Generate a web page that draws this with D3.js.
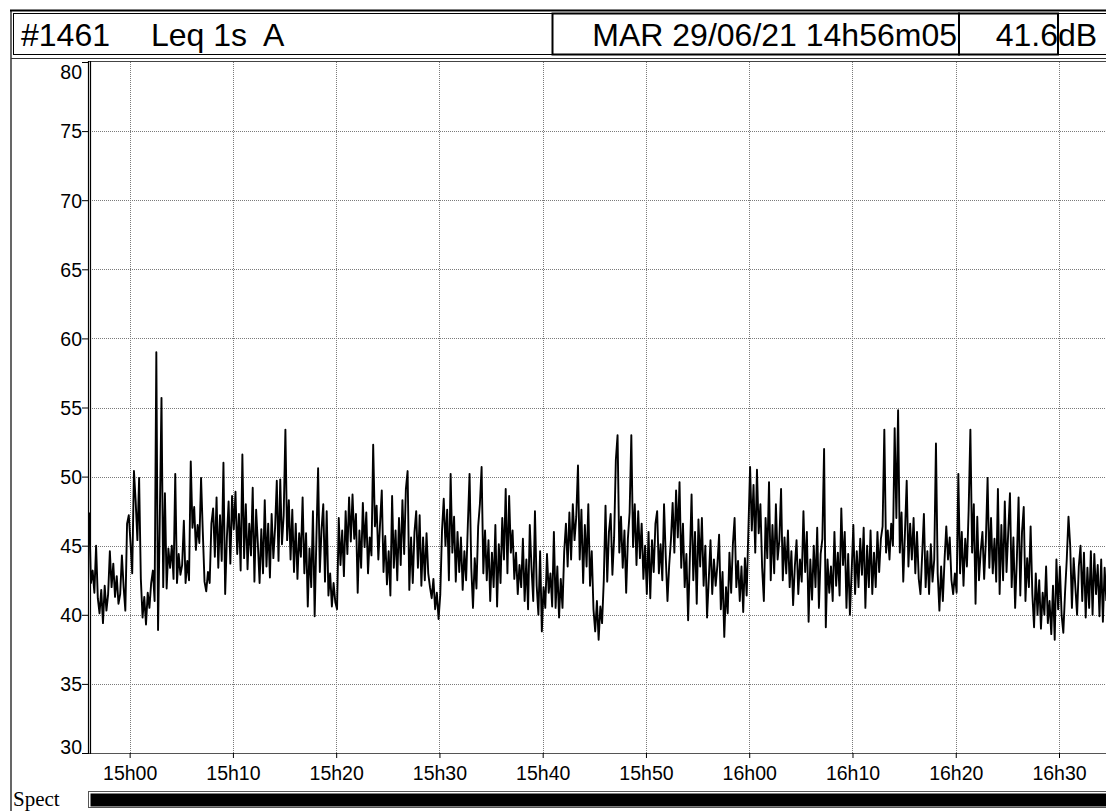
<!DOCTYPE html>
<html>
<head>
<meta charset="utf-8">
<script src="https://cdn.jsdelivr.net/npm/d3@7"></script>
<style>
  body { margin: 0; background: #fff; }
  svg { display: block; }
  text { font-family: "Liberation Sans", Arial, sans-serif; fill: #000; }
</style>
</head>
<body>
<svg id="chart" width="1106" height="811"></svg>
<script>
// header texts
const station = "#1461";
const indicator = "Leq 1s  A";
const stamp = "MAR 29/06/21 14h56m05";
const lastValue = "41.6";
const unit = "dB";

// time base of the record, one value every 10 s from the start
const startTime = "14:56:05";
const stepSeconds = 10;
const viewStart = "14:55:58";
const viewEnd = "16:34:33";

const xTicks = ["15:00", "15:10", "15:20", "15:30", "15:40", "15:50", "16:00", "16:10", "16:20", "16:30"];
const yTicks = [30, 35, 40, 45, 50, 55, 60, 65, 70, 75, 80];

// Leq 1s A, dB (one row per minute)
const leq = [
  47.4, 42.3, 43.2, 41.6, 45.0, 41.2,   // 14h56
  40.1, 41.8, 39.4, 42.1, 40.3, 41.5,
  44.6, 42.0, 43.7, 41.3, 42.8, 40.8,
  41.5, 44.3, 42.0, 40.3, 46.6, 47.2,
  45.2, 43.0, 50.4, 48.2, 45.4, 49.9,   // 15h00
  42.6, 39.8, 41.3, 39.3, 41.6, 40.5,
  42.3, 43.2, 41.0, 59.0, 38.9, 46.8,
  55.7, 42.0, 48.8, 41.9, 44.8, 43.4,
  45.0, 42.6, 50.2, 42.3, 44.4, 42.9,
  43.6, 46.8, 42.3, 43.9, 42.5, 51.1,   // 15h05
  46.3, 47.8, 44.7, 46.5, 45.2, 49.9,
  46.0, 42.4, 41.7, 43.1, 42.3, 46.6,
  47.7, 44.2, 48.5, 43.4, 47.2, 43.9,
  51.0, 41.5, 45.6, 48.2, 43.7, 48.6,
  46.2, 48.9, 44.4, 47.3, 43.2, 51.6,   // 15h10
  44.1, 48.0, 43.3, 46.6, 44.3, 49.2,
  42.4, 47.6, 45.1, 42.3, 46.2, 43.0,
  48.3, 43.5, 46.6, 42.7, 47.3, 44.1,
  46.3, 49.7, 43.9, 49.8, 45.1, 47.2,
  53.4, 45.4, 48.3, 44.0, 47.6, 43.1,   // 15h15
  46.6, 42.6, 45.9, 44.2, 48.5, 43.0,
  45.9, 40.6, 44.8, 42.0, 47.5, 39.9,
  45.5, 50.6, 43.1, 46.2, 48.0, 42.4,
  47.5, 41.4, 43.0, 40.6, 42.3, 40.9,
  40.4, 47.0, 43.6, 46.1, 42.8, 47.5,   // 15h20
  44.4, 48.5, 45.3, 48.7, 45.5, 47.3,
  41.6, 46.1, 43.4, 48.1, 44.9, 47.4,
  43.0, 45.6, 44.3, 52.3, 46.4, 47.9,
  44.0, 46.6, 49.0, 43.1, 45.7, 42.2,
  44.6, 41.4, 48.6, 43.4, 46.1, 42.5,   // 15h25
  47.0, 43.6, 48.3, 44.4, 49.1, 50.4,
  41.8, 45.6, 42.3, 46.0, 47.5, 43.4,
  47.2, 42.1, 45.6, 42.5, 45.9, 43.0,
  42.0, 41.2, 42.6, 40.4, 41.6, 39.7,
  41.5, 46.1, 48.4, 45.0, 47.6, 42.5,   // 15h30
  50.2, 44.5, 47.1, 42.4, 46.0, 43.1,
  45.6, 41.8, 44.6, 42.5, 46.5, 50.2,
  43.4, 40.5, 44.1, 41.9, 46.4, 48.0,
  50.7, 43.0, 46.1, 42.5, 45.4, 41.0,
  44.5, 42.0, 46.5, 40.6, 45.1, 42.3,   // 15h35
  47.0, 44.0, 49.1, 43.0, 48.6, 44.5,
  46.1, 42.6, 44.5, 41.5, 43.6, 42.0,
  45.5, 41.0, 44.0, 40.4, 46.5, 43.4,
  41.0, 47.5, 42.1, 40.0, 44.6, 38.8,
  42.0, 40.5, 44.4, 41.6, 43.0, 40.6,   // 15h40
  46.0, 40.5, 43.5, 39.8, 42.6, 40.5,
  44.6, 46.6, 43.5, 47.4, 44.0, 48.0,
  45.4, 47.1, 50.8, 44.0, 47.6, 42.3,
  46.5, 43.5, 48.0, 42.1, 44.6, 40.4,
  38.8, 41.0, 38.2, 40.6, 39.4, 42.5,   // 15h45
  47.9, 42.4, 46.0, 47.3, 42.9, 45.6,
  51.2, 53.0, 44.5, 47.1, 43.4, 46.1,
  41.6, 45.5, 47.4, 53.0, 44.9, 48.0,
  43.6, 47.5, 44.1, 46.6, 42.6, 45.0,
  41.5, 46.0, 41.2, 45.4, 43.1, 46.6,   // 15h50
  47.5, 43.0, 45.1, 42.5, 48.0, 44.2,
  41.0, 43.6, 45.4, 48.1, 44.5, 49.0,
  45.6, 49.6, 43.4, 46.6, 42.0, 44.4,
  39.6, 44.1, 48.7, 42.5, 46.0, 40.8,
  46.9, 43.5, 47.0, 42.1, 45.0, 39.8,   // 15h55
  42.6, 45.4, 41.5, 44.0, 42.1, 43.6,
  45.8, 40.4, 43.1, 38.4, 42.0, 40.1,
  44.5, 41.6, 45.1, 47.0, 42.0, 43.9,
  41.0, 43.5, 40.2, 44.1, 41.4, 46.1,
  50.7, 46.1, 49.4, 44.5, 50.5, 45.9,   // 16h00
  48.0, 43.4, 41.0, 47.0, 44.1, 49.6,
  42.5, 46.5, 43.0, 48.0, 44.0, 45.4,
  49.1, 42.5, 45.6, 43.0, 46.1, 42.0,
  44.6, 40.7, 43.5, 45.4, 41.5, 44.0,
  42.4, 47.5, 43.1, 46.0, 39.5, 44.0,   // 16h05
  41.1, 45.0, 42.0, 46.3, 40.5, 44.4,
  45.5, 52.0, 39.1, 44.0, 41.6, 43.5,
  41.0, 46.0, 42.1, 44.5, 41.4, 47.7,
  43.6, 46.0, 40.5, 44.4, 40.0, 43.1,
  46.5, 41.5, 44.6, 42.0, 45.5, 42.9,   // 16h10
  46.3, 40.5, 45.0, 42.0, 46.1, 41.5,
  44.5, 42.0, 46.0, 43.1, 45.5, 46.4,
  53.4, 44.5, 46.1, 44.0, 46.6, 45.0,
  53.5, 47.0, 54.8, 44.5, 47.4, 42.4,
  46.0, 49.7, 43.5, 46.6, 44.0, 47.0,   // 16h15
  43.0, 46.0, 42.6, 41.5, 44.4, 47.3,
  42.0, 44.6, 41.5, 45.1, 42.4, 44.0,
  52.4, 43.0, 40.3, 43.5, 41.0, 44.0,
  46.4, 44.0, 45.6, 42.5, 41.5, 43.0,
  41.6, 50.2, 43.0, 46.0, 42.1, 45.5,   // 16h20
  43.5, 47.6, 53.4, 44.5, 48.0, 40.8,
  47.1, 42.5, 44.6, 46.0, 42.6, 45.4,
  49.9, 43.4, 47.0, 43.0, 45.5, 42.4,
  49.1, 41.5, 46.5, 42.5, 48.2, 43.1,
  46.0, 48.8, 42.0, 45.6, 40.5, 44.0,   // 16h25
  48.5, 41.4, 46.0, 47.8, 41.0, 44.1,
  42.0, 46.4, 41.5, 39.1, 43.0, 40.0,
  42.5, 39.0, 41.6, 40.0, 43.5, 39.4,
  41.0, 38.6, 42.1, 38.2, 44.0, 40.4,
  43.5, 40.0, 38.7, 41.6, 44.0, 47.1,   // 16h30
  45.0, 40.5, 44.1, 42.0, 40.0, 43.5,
  45.0, 41.0, 44.5, 39.8, 43.4, 40.5,
  44.6, 40.0, 44.4, 41.5, 43.6, 39.9,
  44.0, 39.5, 43.4, 41.0
];

const svg = d3.select("#chart");
const W = +svg.attr("width");
const plot = {left: 88, right: W, top: 62, bottom: 753};

svg.append("rect").attr("width", W).attr("height", 811).attr("fill", "#fff");

const parseT = d3.timeParse("%H:%M:%S");
const parseHM = d3.timeParse("%H:%M");
const t0 = parseT(startTime);
const series = leq.map((v, i) => ({time: d3.timeSecond.offset(t0, i * stepSeconds), value: v}));
const tickDates = xTicks.map(parseHM);

const x = d3.scaleTime()
    .domain([parseT(viewStart), parseT(viewEnd)])
    .range([plot.left, plot.right]);
const y = d3.scaleLinear().domain([30, 80]).range([plot.bottom, plot.top]);

// frame + header
const frame = svg.append("g").attr("fill", "none").attr("stroke", "#000");
frame.append("line").attr("x1", 10).attr("x2", W).attr("y1", 10.5).attr("y2", 10.5).attr("stroke-width", 2);
frame.append("line").attr("x1", 11).attr("x2", 11).attr("y1", 10).attr("y2", 811).attr("stroke-width", 1.2);
frame.append("rect").attr("x", 13.5).attr("y", 13.5).attr("width", W).attr("height", 41);
frame.append("rect").attr("x", 552.5).attr("y", 13.5).attr("width", 406.5).attr("height", 41).attr("stroke-width", 2);
frame.append("rect").attr("x", 959).attr("y", 13.5).attr("width", 99).attr("height", 41).attr("stroke-width", 2);
frame.append("line").attr("x1", 11).attr("x2", W).attr("y1", 58.5).attr("y2", 58.5).attr("stroke", "#333");

const head = svg.append("g").style("font-size", "32px");
head.append("text").attr("x", 21).attr("y", 46).text(station);
head.append("text").attr("x", 151).attr("y", 46).style("white-space", "pre").text(indicator);
head.append("text").attr("x", 957).attr("y", 46).attr("text-anchor", "end").text(stamp);
head.append("text").attr("x", 1058).attr("y", 46).attr("text-anchor", "end").text(lastValue);
head.append("text").attr("x", 1058).attr("y", 46).text(unit);

// grid
const grid = svg.append("g").attr("stroke", "#7a7a7a").attr("stroke-dasharray", "1,1").attr("stroke-width", 1);
grid.selectAll(".gx").data(tickDates).join("line")
    .attr("x1", d => Math.round(x(d)) + 0.5).attr("x2", d => Math.round(x(d)) + 0.5)
    .attr("y1", plot.top).attr("y2", plot.bottom);
grid.selectAll(".gy").data(yTicks.slice(1, -1)).join("line")
    .attr("x1", plot.left).attr("x2", plot.right)
    .attr("y1", d => Math.round(y(d)) + 0.5).attr("y2", d => Math.round(y(d)) + 0.5);

// plot top border and x axis line
svg.append("line").attr("x1", plot.left).attr("x2", plot.right)
    .attr("y1", 61.5).attr("y2", 61.5).attr("stroke", "#444");
svg.append("line").attr("x1", plot.left).attr("x2", plot.right)
    .attr("y1", plot.bottom + 0.5).attr("y2", plot.bottom + 0.5).attr("stroke", "#555");

// trace
svg.append("clipPath").attr("id", "clip").append("rect")
    .attr("x", plot.left).attr("y", plot.top).attr("width", plot.right - plot.left).attr("height", plot.bottom - plot.top);
svg.append("path")
    .datum(series)
    .attr("clip-path", "url(#clip)")
    .attr("fill", "none")
    .attr("stroke", "#000")
    .attr("stroke-width", 1.9)
    .attr("stroke-linejoin", "round")
    .attr("d", d3.line().x(d => x(d.time)).y(d => y(d.value)));

// axes
const xAxis = svg.append("g")
    .attr("transform", `translate(0,${plot.bottom})`)
    .call(d3.axisBottom(x).tickValues(tickDates).tickFormat(d3.timeFormat("%Hh%M")).tickSize(5).tickPadding(8));
xAxis.select(".domain").remove();
xAxis.selectAll("line").attr("stroke", "#000");
xAxis.selectAll("text").style("font-size", "19.5px").attr("font-family", null);

const yAxis = svg.append("g")
    .attr("transform", `translate(${plot.left},0)`)
    .call(d3.axisLeft(y).tickValues(yTicks).tickSize(6).tickPadding(0));
yAxis.select(".domain").remove();
yAxis.selectAll("line").attr("stroke", "#000");
yAxis.selectAll("text").style("font-size", "19.5px").attr("font-family", null)
    .attr("dy", d => d === 30 ? "0em" : d === 80 ? "0.87em" : "0.35em");

// double left axis rule
[88.5, 90.5].forEach(px => svg.append("line")
    .attr("x1", px).attr("x2", px).attr("y1", 61).attr("y2", plot.bottom + 1)
    .attr("stroke", "#000").attr("stroke-width", 1.2));

// Spect bar
svg.append("text").attr("x", 13).attr("y", 806)
    .style("font-family", "'Liberation Serif', 'Times New Roman', serif").style("font-size", "21px").text("Spect");
svg.append("rect").attr("x", 88.5).attr("y", 791.5).attr("width", W).attr("height", 16)
    .attr("fill", "#fff").attr("stroke", "#555");
svg.append("rect").attr("x", 90.5).attr("y", 793.5).attr("width", W).attr("height", 13).attr("fill", "#000");
</script>
</body>
</html>
